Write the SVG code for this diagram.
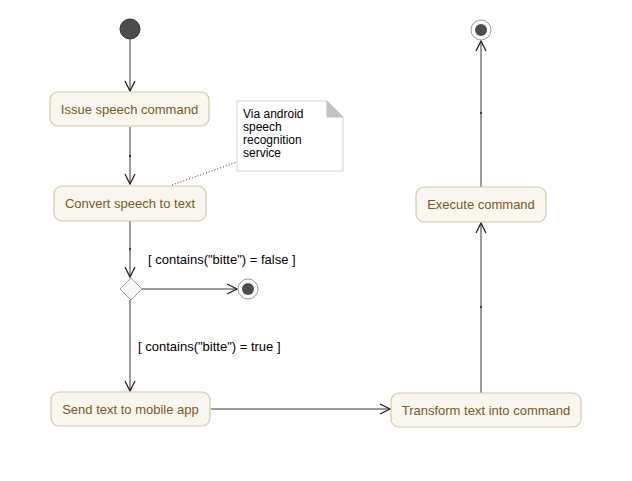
<svg xmlns="http://www.w3.org/2000/svg" width="632" height="481" viewBox="0 0 632 481">
<style>
.act rect{fill:#f8f6ef;stroke:#d2c8ae;stroke-width:1.2}
.act text{font-family:"Liberation Sans",Arial,sans-serif;font-size:13px;fill:#7a5a1e;text-anchor:middle}
.edge{stroke:#7a7a7a;stroke-width:1.5;fill:none}
.tick{stroke:#222;stroke-width:1.5}
.lbl{font-family:"Liberation Sans",Arial,sans-serif;font-size:13px;fill:#000}
.note text{font-family:"Liberation Sans",Arial,sans-serif;font-size:12px;fill:#000}
</style>
<defs>
<marker id="arr" viewBox="0 0 12 12" refX="11" refY="6" markerWidth="12" markerHeight="12" markerUnits="userSpaceOnUse" orient="auto">
<path d="M1,1 L11,6 L1,11" fill="none" stroke="#222" stroke-width="1.3"/>
</marker>
</defs>
<rect width="632" height="481" fill="#fff"/>
<g id="connectors">
<line class="edge" x1="130" y1="39" x2="130" y2="91" marker-end="url(#arr)"/>
<line class="edge" x1="130" y1="127" x2="130" y2="184" marker-end="url(#arr)"/>
<line class="tick" x1="130" y1="155" x2="130" y2="157"/>
<line class="edge" x1="130" y1="221" x2="130" y2="277" marker-end="url(#arr)"/>
<line class="tick" x1="130" y1="248" x2="130" y2="250"/>
<line class="edge" x1="142" y1="289" x2="237" y2="289" marker-end="url(#arr)"/>
<line class="edge" x1="130" y1="300" x2="130" y2="391" marker-end="url(#arr)"/>
<line class="edge" x1="211" y1="409" x2="390" y2="409" marker-end="url(#arr)"/>
<line class="edge" x1="481" y1="393" x2="481" y2="223" marker-end="url(#arr)"/>
<line class="tick" x1="481" y1="306" x2="481" y2="308"/>
<line class="edge" x1="481" y1="187" x2="481" y2="41" marker-end="url(#arr)"/>
<line class="tick" x1="481" y1="112" x2="481" y2="114"/>
<line x1="172" y1="185" x2="237" y2="162" stroke="#333" stroke-width="1" stroke-dasharray="1,2"/>
<text class="lbl" x="148" y="264">[ contains("bitte") = false ]</text>
<text class="lbl" x="138" y="351">[ contains("bitte") = true ]</text>
</g>
<g id="start"><circle cx="130" cy="29" r="10" fill="#4d4d4d" stroke="#333" stroke-width="1"/></g>
<g id="issue" class="act"><rect x="50" y="92" width="159" height="34" rx="8"/><text x="129.5" y="114">Issue speech command</text></g>
<g id="convert" class="act"><rect x="54" y="186" width="152" height="35" rx="8"/><text x="130" y="208">Convert speech to text</text></g>
<g id="note" class="note">
<path d="M237,101 H327 L343,117 V171 H237 Z" fill="#fff" stroke="#cfcfcf" stroke-width="1"/>
<path d="M327,101 L343,117 H327 Z" fill="#c0c0c0" stroke="#c0c0c0" stroke-width="1"/>
<text x="243" y="118">Via android</text>
<text x="243" y="131">speech</text>
<text x="243" y="144">recognition</text>
<text x="243" y="157">service</text>
</g>
<g id="decision"><path d="M131,278 L142,289 L131,300 L120,289 Z" fill="#f8f8f8" stroke="#9a9a9a" stroke-width="1"/></g>
<g id="end1"><circle cx="248" cy="289" r="10" fill="#fff" stroke="#9a9a9a" stroke-width="1"/><circle cx="248" cy="289" r="6" fill="#4d4d4d"/></g>
<g id="send" class="act"><rect x="51" y="392" width="159" height="34" rx="8"/><text x="130.5" y="414">Send text to mobile app</text></g>
<g id="transform" class="act"><rect x="391" y="393" width="190" height="34" rx="8"/><text x="486" y="415">Transform text into command</text></g>
<g id="execute" class="act"><rect x="416" y="187" width="130" height="35" rx="8"/><text x="481" y="209">Execute command</text></g>
<g id="end2"><circle cx="481" cy="30" r="10" fill="#fff" stroke="#9a9a9a" stroke-width="1"/><circle cx="481" cy="30" r="6" fill="#4d4d4d"/></g>
</svg>
